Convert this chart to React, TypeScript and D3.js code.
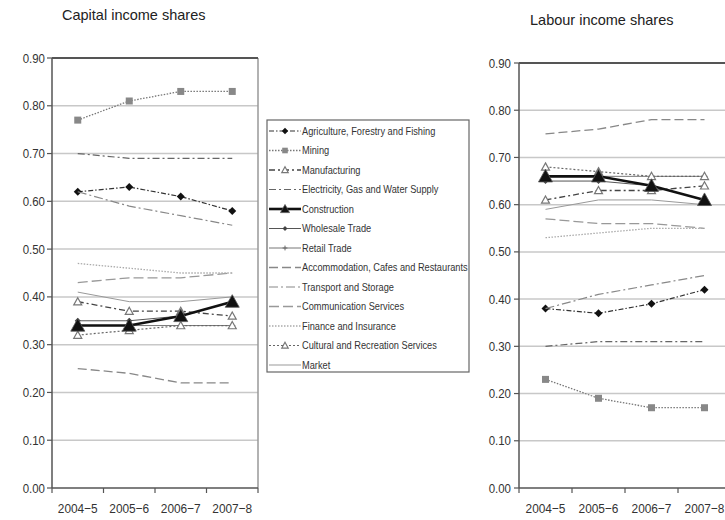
import React from "react";
import * as d3 from "d3";

const periods = ["2004\u22125", "2005\u22126", "2006\u22127", "2007\u22128"];
const periodLabels = ["2004\u22125", "2005\u22126", "2006\u22127", "2007\u22128"];
const yTicks = [0, 0.1, 0.2, 0.3, 0.4, 0.5, 0.6, 0.7, 0.8, 0.9];

const seriesNames = [
  "Agriculture, Forestry and Fishing",
  "Mining",
  "Manufacturing",
  "Electricity, Gas and Water Supply",
  "Construction",
  "Wholesale Trade",
  "Retail Trade",
  "Accommodation, Cafes and Restaurants",
  "Transport and Storage",
  "Communication Services",
  "Finance and Insurance",
  "Cultural and Recreation Services",
  "Market",
];

const capitalShares = [
  [0.62, 0.63, 0.61, 0.58],
  [0.77, 0.81, 0.83, 0.83],
  [0.39, 0.37, 0.37, 0.36],
  [0.70, 0.69, 0.69, 0.69],
  [0.34, 0.34, 0.36, 0.39],
  [0.35, 0.35, 0.36, 0.39],
  [0.34, 0.34, 0.34, 0.34],
  [0.25, 0.24, 0.22, 0.22],
  [0.62, 0.59, 0.57, 0.55],
  [0.43, 0.44, 0.44, 0.45],
  [0.47, 0.46, 0.45, 0.45],
  [0.32, 0.33, 0.34, 0.34],
  [0.41, 0.39, 0.39, 0.40],
];

const labourShares = [
  [0.38, 0.37, 0.39, 0.42],
  [0.23, 0.19, 0.17, 0.17],
  [0.61, 0.63, 0.63, 0.64],
  [0.30, 0.31, 0.31, 0.31],
  [0.66, 0.66, 0.64, 0.61],
  [0.65, 0.65, 0.64, 0.61],
  [0.66, 0.66, 0.66, 0.66],
  [0.75, 0.76, 0.78, 0.78],
  [0.38, 0.41, 0.43, 0.45],
  [0.57, 0.56, 0.56, 0.55],
  [0.53, 0.54, 0.55, 0.55],
  [0.68, 0.67, 0.66, 0.66],
  [0.59, 0.61, 0.61, 0.60],
];

type Style = { color: string; width: number; dash?: string; marker?: string; mcolor?: string; msize?: number };
const styles: Style[] = [
  { color: "#333", width: 1.2, dash: "5,2,1.5,2", marker: "diamond", mcolor: "#111", msize: 4 },
  { color: "#777", width: 1.3, dash: "1.5,1.5", marker: "square", mcolor: "#888", msize: 3.5 },
  { color: "#444", width: 1.3, dash: "6,3,2,3", marker: "triangle", mcolor: "#777", msize: 4 },
  { color: "#666", width: 1.2, dash: "7,3,2,3", marker: "none" },
  { color: "#111", width: 2.6, marker: "bigtriangle", mcolor: "#111", msize: 7 },
  { color: "#555", width: 1, marker: "diamond", mcolor: "#444", msize: 3 },
  { color: "#777", width: 1, marker: "plus", mcolor: "#666", msize: 3 },
  { color: "#888", width: 1.3, dash: "9,4", marker: "none" },
  { color: "#888", width: 1.2, dash: "9,3,2,3", marker: "none" },
  { color: "#999", width: 1.3, dash: "10,4", marker: "none" },
  { color: "#aaa", width: 1.3, dash: "1.5,1.5", marker: "none" },
  { color: "#666", width: 1.2, dash: "2,2", marker: "triangle", mcolor: "#777", msize: 4 },
  { color: "#999", width: 1, marker: "none" },
];

function Marker({ x, y, s }: { x: number; y: number; s: Style }) {
  const m = s.msize || 3;
  const c = s.mcolor || s.color;
  switch (s.marker) {
    case "diamond":
      return <path d={`M${x},${y - m}L${x + m},${y}L${x},${y + m}L${x - m},${y}Z`} fill={c} />;
    case "square":
      return <rect x={x - m} y={y - m} width={2 * m} height={2 * m} fill={c} />;
    case "triangle":
      return <path d={`M${x},${y - m}L${x + m},${y + m * 0.8}L${x - m},${y + m * 0.8}Z`} fill="#fff" stroke={c} strokeWidth={1.2} />;
    case "bigtriangle":
      return <path d={`M${x},${y - m}L${x + m},${y + m * 0.8}L${x - m},${y + m * 0.8}Z`} fill={c} stroke="#555" strokeWidth={0.8} />;
    case "plus":
      return <path d={`M${x - m},${y}H${x + m}M${x},${y - m}V${y + m}`} stroke={c} strokeWidth={1} />;
    default:
      return null;
  }
}

const FONT = "'Liberation Sans', Arial, sans-serif";

function Panel({ title, titleX, titleY, data, x0, x1, yTop, yBot, tickRight, showRight }: any) {
  const x = d3.scalePoint<string>().domain(periods).range([x0, x1]).padding(0.5);
  const y = d3.scaleLinear().domain([0, 0.9]).range([yBot, yTop]);
  const step = x.step();
  const line = d3
    .line<number>()
    .x((_, i) => x(periods[i]) as number)
    .y((v) => y(v));
  const bounds = d3.range(periods.length + 1).map((i) => x0 + i * step);
  return (
    <g>
      <text x={titleX} y={titleY} fontFamily={FONT} fontSize={14.5} fill="#222">
        {title}
      </text>
      {yTicks.slice(1, -1).map((t) => (
        <line key={t} x1={x0} x2={x1} y1={y(t)} y2={y(t)} stroke="#c8c8c8" strokeWidth={1.5} />
      ))}
      {showRight && <line x1={x1} x2={x1} y1={yTop} y2={yBot} stroke="#999" strokeWidth={1.5} />}
      <line x1={x0} x2={x1} y1={yTop} y2={yTop} stroke="#555" strokeWidth={1.8} />
      <line x1={x0} x2={x0} y1={yTop} y2={yBot} stroke="#555" strokeWidth={1.5} />
      <line x1={x0} x2={x1} y1={yBot} y2={yBot} stroke="#555" strokeWidth={1.5} />
      {yTicks.map((t) => (
        <g key={t}>
          <line x1={x0 - 5} x2={x0} y1={y(t)} y2={y(t)} stroke="#555" strokeWidth={1.2} />
          <text
            transform={`translate(${tickRight},${y(t) + 4.5}) scale(0.85,1)`}
            textAnchor="end"
            fontFamily={FONT}
            fontSize={13.5}
            fill="#333"
          >
            {t.toFixed(2)}
          </text>
        </g>
      ))}
      {bounds.map((b, i) => (
        <line key={i} x1={b} x2={b} y1={yBot} y2={yBot + 5} stroke="#555" strokeWidth={1.2} />
      ))}
      {periods.map((p, i) => (
        <text
          key={p}
          transform={`translate(${x(p)},${yBot + 25}) scale(0.88,1)`}
          textAnchor="middle"
          fontFamily={FONT}
          fontSize={13.5}
          fill="#333"
        >
          {periodLabels[i]}
        </text>
      ))}
      {data
        .map((vals: number[], si: number) => ({ vals, si }))
        .sort((a: any, b: any) => (a.si === 4 ? 1 : b.si === 4 ? -1 : 0))
        .map(({ vals, si }: any) => {
          const s = styles[si];
          return (
            <g key={si}>
              <path d={line(vals) || ""} fill="none" stroke={s.color} strokeWidth={s.width} strokeDasharray={s.dash} />
              {vals.map((v: number, i: number) => (
                <Marker key={i} x={x(periods[i]) as number} y={y(v)} s={s} />
              ))}
            </g>
          );
        })}
    </g>
  );
}

function Legend({ left, top, right, bottom }: any) {
  const rowY = d3.scaleLinear().domain([0, seriesNames.length - 1]).range([top + 11, bottom - 7]);
  return (
    <g>
      <rect x={left} y={top} width={right - left} height={bottom - top} fill="#fff" stroke="#666" strokeWidth={1.2} />
      {seriesNames.map((n, i) => {
        const s = styles[i];
        const yy = rowY(i);
        return (
          <g key={n}>
            <line x1={left + 2} x2={left + 34} y1={yy} y2={yy} stroke={s.color} strokeWidth={s.width} strokeDasharray={s.dash} />
            <Marker x={left + 18} y={yy} s={{ ...s, msize: s.marker === "bigtriangle" ? 4.5 : (s.msize || 3) * 0.8 }} />
            <text
              transform={`translate(${left + 35},${yy + 3.6}) scale(0.88,1)`}
              fontFamily={FONT}
              fontSize={10.5}
              fill="#333"
            >
              {n}
            </text>
          </g>
        );
      })}
    </g>
  );
}

export default function App() {
  return (
    <svg width={725} height={520} style={{ position: "absolute", left: 0, top: 0, background: "#fff" }}>
      <rect x={0} y={0} width={725} height={520} fill="#fff" />
      <Panel
        title="Capital income shares"
        titleX={62}
        titleY={20}
        data={capitalShares}
        x0={52}
        x1={258}
        yTop={58}
        yBot={488}
        tickRight={45}
        showRight={true}
      />
      <Panel
        title="Labour income shares"
        titleX={530}
        titleY={25}
        data={labourShares}
        x0={519}
        x1={731}
        yTop={63}
        yBot={488}
        tickRight={511}
        showRight={false}
      />
      <Legend left={267} top={120} right={469} bottom={372} />
    </svg>
  );
}
